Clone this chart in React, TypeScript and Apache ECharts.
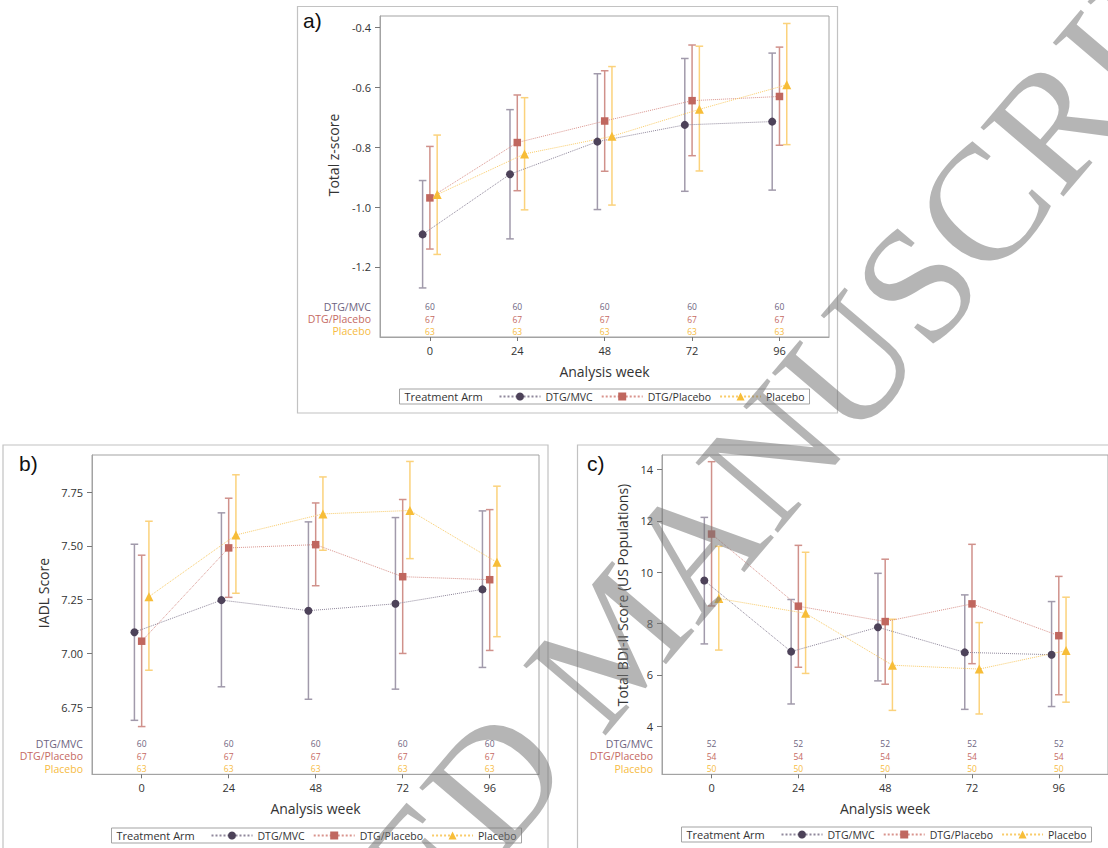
import React, { useEffect, useRef } from "react";
import * as echarts from "echarts";

// ---------- data ----------
const weeks = [0, 24, 48, 72, 96];
const arms = ["DTG/MVC", "DTG/Placebo", "Placebo"];

// Panel a: Total z-score
const aMvcMean = [-1.091, -0.89, -0.781, -0.725, -0.714];
const aMvcLo = [-1.27, -1.106, -1.008, -0.947, -0.943];
const aMvcHi = [-0.911, -0.674, -0.554, -0.503, -0.485];
const aDpMean = [-0.969, -0.784, -0.712, -0.644, -0.63];
const aDpLo = [-1.14, -0.945, -0.88, -0.828, -0.793];
const aDpHi = [-0.797, -0.625, -0.544, -0.458, -0.465];
const aPlMean = [-0.958, -0.822, -0.763, -0.673, -0.591];
const aPlLo = [-1.158, -1.009, -0.993, -0.879, -0.791];
const aPlHi = [-0.759, -0.634, -0.53, -0.462, -0.386];
const aCounts = [
  [60, 60, 60, 60, 60],
  [67, 67, 67, 67, 67],
  [63, 63, 63, 63, 63],
];
const aTicks = [-1.2, -1.0, -0.8, -0.6, -0.4];

// Panel b: IADL Score
const bMvcMean = [7.099, 7.248, 7.199, 7.231, 7.298];
const bMvcLo = [6.689, 6.845, 6.787, 6.834, 6.935];
const bMvcHi = [7.508, 7.654, 7.612, 7.632, 7.663];
const bDpMean = [7.057, 7.491, 7.506, 7.357, 7.343];
const bDpLo = [6.66, 7.261, 7.315, 7.0, 7.014];
const bDpHi = [7.457, 7.722, 7.7, 7.716, 7.669];
const bPlMean = [7.264, 7.551, 7.649, 7.665, 7.424];
const bPlLo = [6.922, 7.28, 7.48, 7.441, 7.078];
const bPlHi = [7.615, 7.831, 7.821, 7.893, 7.778];
const bCounts = [
  [60, 60, 60, 60, 60],
  [67, 67, 67, 67, 67],
  [63, 63, 63, 63, 63],
];
const bTicks = [6.75, 7.0, 7.25, 7.5, 7.75];

// Panel c: Total BDI-II Score (US Populations)
const cMvcMean = [9.68, 6.91, 7.86, 6.88, 6.79];
const cMvcLo = [7.21, 4.87, 5.77, 4.66, 4.77];
const cMvcHi = [12.14, 8.94, 9.96, 9.12, 8.86];
const cDpMean = [11.49, 8.68, 8.08, 8.77, 7.53];
const cDpLo = [8.69, 6.3, 5.64, 6.44, 5.23];
const cDpHi = [14.31, 11.05, 10.51, 11.09, 9.84];
const cPlMean = [8.98, 8.4, 6.38, 6.23, 6.95];
const cPlLo = [6.97, 6.06, 4.62, 4.48, 4.94];
const cPlHi = [11.01, 10.78, 8.17, 8.04, 9.03];
const cCounts = [
  [52, 52, 52, 52, 52],
  [54, 54, 54, 54, 54],
  [50, 50, 50, 50, 50],
];
const cTicks = [4, 6, 8, 10, 12, 14];

// ---------- styles / layout ----------
const FONT = '"Open Sans", "Noto Sans", sans-serif';
const markerColors = ["#4d4259", "#c0675f", "#f7bd38"];
const barColors = ["#a19aab", "#d0918b", "#fbd27c"];
const lineColors = ["#8f879b", "#d9948d", "#f9cc6a"];
const textColors = ["#6d6480", "#c56a63", "#f6bb3f"];
const symbols = ["circle", "rect", "triangle"];
const symbolSizes = [8, 7.5, 9];
const dodge = [-2, 0, 2];
const rowOffsets = [30.5, 18, 5.8];

const panels = [
  {
    label: "a)",
    labelPos: [303, 20],
    frame: [297.5, 6.5, 540, 406.5],
    grid: { left: 380, top: 16, width: 449, height: 321 },
    yMin: -1.434,
    yMax: -0.361,
    ticks: aTicks,
    dec: 1,
    yTitle: "Total z-score",
    yTitlePos: [333.5, 155],
    mean: [aMvcMean, aDpMean, aPlMean],
    lo: [aMvcLo, aDpLo, aPlLo],
    hi: [aMvcHi, aDpHi, aPlHi],
    counts: aCounts,
    legend: { left: 399.5, top: 389 },
  },
  {
    label: "b)",
    labelPos: [19, 463],
    frame: [3, 445, 545, 430],
    grid: { left: 92, top: 455, width: 447, height: 319.3 },
    yMin: 6.438,
    yMax: 7.923,
    ticks: bTicks,
    dec: 2,
    yTitle: "IADL Score",
    yTitlePos: [43, 593],
    mean: [bMvcMean, bDpMean, bPlMean],
    lo: [bMvcLo, bDpLo, bPlLo],
    hi: [bMvcHi, bDpHi, bPlHi],
    counts: bCounts,
    legend: { left: 111.5, top: 828 },
  },
  {
    label: "c)",
    labelPos: [587, 463],
    frame: [577.5, 445, 560, 430],
    grid: { left: 662, top: 455, width: 450, height: 319.3 },
    yMin: 2.13,
    yMax: 14.57,
    ticks: cTicks,
    dec: 0,
    yTitle: "Total BDI-II Score (US Populations)",
    yTitlePos: [622.5, 595],
    mean: [cMvcMean, cDpMean, cPlMean],
    lo: [cMvcLo, cDpLo, cPlLo],
    hi: [cMvcHi, cDpHi, cPlHi],
    counts: cCounts,
    legend: { left: 681.5, top: 827 },
  },
];

function errRender(color: string) {
  return (params: any, api: any) => {
    const x = api.value(0);
    const pLo = api.coord([x, api.value(1)]);
    const pHi = api.coord([x, api.value(2)]);
    const w = 3.8;
    const st = { stroke: color, lineWidth: 1.5 };
    return {
      type: "group",
      children: [
        { type: "line", shape: { x1: pLo[0], y1: pLo[1], x2: pHi[0], y2: pHi[1] }, style: st },
        { type: "line", shape: { x1: pLo[0] - w, y1: pLo[1], x2: pLo[0] + w, y2: pLo[1] }, style: st },
        { type: "line", shape: { x1: pHi[0] - w, y1: pHi[1], x2: pHi[0] + w, y2: pHi[1] }, style: st },
      ],
    };
  };
}

function countRender(color: string, offset: number, yRef: number) {
  return (params: any, api: any) => {
    const px = api.coord([api.value(0), yRef])[0];
    const cs = params.coordSys;
    return {
      type: "text",
      x: px,
      y: cs.y + cs.height - offset,
      style: {
        text: String(api.value(1)),
        fill: color,
        font: `8.5px ${FONT}`,
        align: "center",
        verticalAlign: "middle",
        textAlign: "center",
        textVerticalAlign: "middle",
      },
    };
  };
}

function buildOption() {
  const grids: any[] = [];
  const xAxes: any[] = [];
  const yAxes: any[] = [];
  const series: any[] = [];
  const legends: any[] = [];
  const graphics: any[] = [];

  panels.forEach((p, pi) => {
    grids.push({ ...p.grid, show: true, borderColor: "#a3a3a3", borderWidth: 1, backgroundColor: "#fff" });
    xAxes.push({
      gridIndex: pi,
      type: "value",
      min: -13.7,
      max: 109.6,
      name: "Analysis week",
      nameLocation: "middle",
      nameGap: 27,
      nameTextStyle: { fontFamily: FONT, fontSize: 14, color: "#333" },
      axisLine: { show: true, onZero: false, lineStyle: { color: "#a3a3a3" } },
      axisTick: { show: true, length: 4, customValues: weeks, lineStyle: { color: "#777" } },
      axisLabel: { customValues: weeks, margin: 8, fontFamily: FONT, fontSize: 11, color: "#333" },
      splitLine: { show: false },
    });
    yAxes.push({
      gridIndex: pi,
      type: "value",
      min: p.yMin,
      max: p.yMax,
      axisLine: { show: true, onZero: false, lineStyle: { color: "#a3a3a3" } },
      axisTick: { show: true, length: 5, customValues: p.ticks, lineStyle: { color: "#777" } },
      axisLabel: {
        customValues: p.ticks,
        margin: 9,
        fontFamily: FONT,
        fontSize: 11,
        color: "#333",
        formatter: (v: number) => v.toFixed(p.dec),
      },
      splitLine: { show: false },
    });

    arms.forEach((arm, ai) => {
      const off = dodge[ai];
      series.push({
        type: "custom",
        xAxisIndex: pi,
        yAxisIndex: pi,
        silent: true,
        z: 2,
        encode: { x: 0, y: [1, 2] },
        data: weeks.map((w, i) => [w + off, p.lo[ai][i], p.hi[ai][i]]),
        renderItem: errRender(barColors[ai]),
      });
    });
    arms.forEach((arm, ai) => {
      const off = dodge[ai];
      series.push({
        type: "line",
        name: arm,
        xAxisIndex: pi,
        yAxisIndex: pi,
        z: 3,
        symbol: symbols[ai],
        symbolSize: symbolSizes[ai],
        itemStyle: { color: markerColors[ai] },
        lineStyle: { color: lineColors[ai], type: "dotted", width: 1 },
        data: weeks.map((w, i) => [w + off, p.mean[ai][i]]),
      });
      series.push({
        type: "custom",
        xAxisIndex: pi,
        yAxisIndex: pi,
        silent: true,
        z: 4,
        data: weeks.map((w, i) => [w, p.counts[ai][i]]),
        renderItem: countRender(textColors[ai], rowOffsets[ai], p.yMin),
      });
      graphics.push({
        type: "text",
        x: p.grid.left - 9,
        y: p.grid.top + p.grid.height - rowOffsets[ai],
        silent: true,
        style: {
          text: arm,
          fill: textColors[ai],
          font: `10.5px ${FONT}`,
          align: "right",
          verticalAlign: "middle",
          textAlign: "right",
          textVerticalAlign: "middle",
        },
      });
    });

    legends.push({
      show: true,
      left: p.legend.left,
      top: p.legend.top,
      orient: "horizontal",
      data: arms,
      selectedMode: false,
      itemWidth: 41,
      itemHeight: 10,
      itemGap: 8,
      padding: [2, 5, 2, 99],
      borderColor: "#a3a3a3",
      borderWidth: 1,
      textStyle: { fontFamily: FONT, fontSize: 10.5, color: "#333" },
    });

    graphics.push({
      type: "text",
      x: p.legend.left + 5,
      y: p.legend.top + 7.5,
      silent: true,
      style: {
        text: "Treatment Arm",
        fill: "#333",
        font: `11px ${FONT}`,
        align: "left",
        verticalAlign: "middle",
        textAlign: "left",
        textVerticalAlign: "middle",
      },
    });
    graphics.push({
      type: "rect",
      silent: true,
      z: -10,
      shape: { x: p.frame[0], y: p.frame[1], width: p.frame[2], height: p.frame[3] },
      style: { fill: "none", stroke: "#c2c2c2", lineWidth: 1.2 },
    });
    graphics.push({
      type: "text",
      x: p.labelPos[0],
      y: p.labelPos[1],
      silent: true,
      style: {
        text: p.label,
        fill: "#111",
        font: `21px "Liberation Sans", Arial, sans-serif`,
        align: "left",
        verticalAlign: "middle",
        textAlign: "left",
        textVerticalAlign: "middle",
      },
    });
    graphics.push({
      type: "text",
      x: p.yTitlePos[0],
      y: p.yTitlePos[1],
      rotation: Math.PI / 2,
      silent: true,
      style: {
        text: p.yTitle,
        fill: "#333",
        font: `14px ${FONT}`,
        align: "center",
        verticalAlign: "middle",
        textAlign: "center",
        textVerticalAlign: "middle",
      },
    });
  });

  // watermark
  graphics.push({
    type: "text",
    x: -19,
    y: 1384,
    rotation: 0.866,
    silent: true,
    z: 100,
    style: {
      text: "ACCEPTED MANUSCRIPT",
      fill: "rgba(120,120,120,0.55)",
      font: `165px "Liberation Serif", "Times New Roman", serif`,
      align: "left",
      verticalAlign: "middle",
      textAlign: "left",
      textVerticalAlign: "middle",
    },
  });

  return {
    animation: false,
    backgroundColor: "#fff",
    grid: grids,
    xAxis: xAxes,
    yAxis: yAxes,
    legend: legends,
    series,
    graphic: { elements: graphics },
  };
}

export default function App() {
  const ref = useRef<HTMLDivElement>(null);
  useEffect(() => {
    const chart = echarts.init(ref.current!, null, { renderer: "svg" });
    chart.setOption(buildOption() as any);
    return () => chart.dispose();
  }, []);
  return (
    <div
      ref={ref}
      style={{ position: "fixed", left: 0, top: 0, width: 1108, height: 848, background: "#fff" }}
    />
  );
}
